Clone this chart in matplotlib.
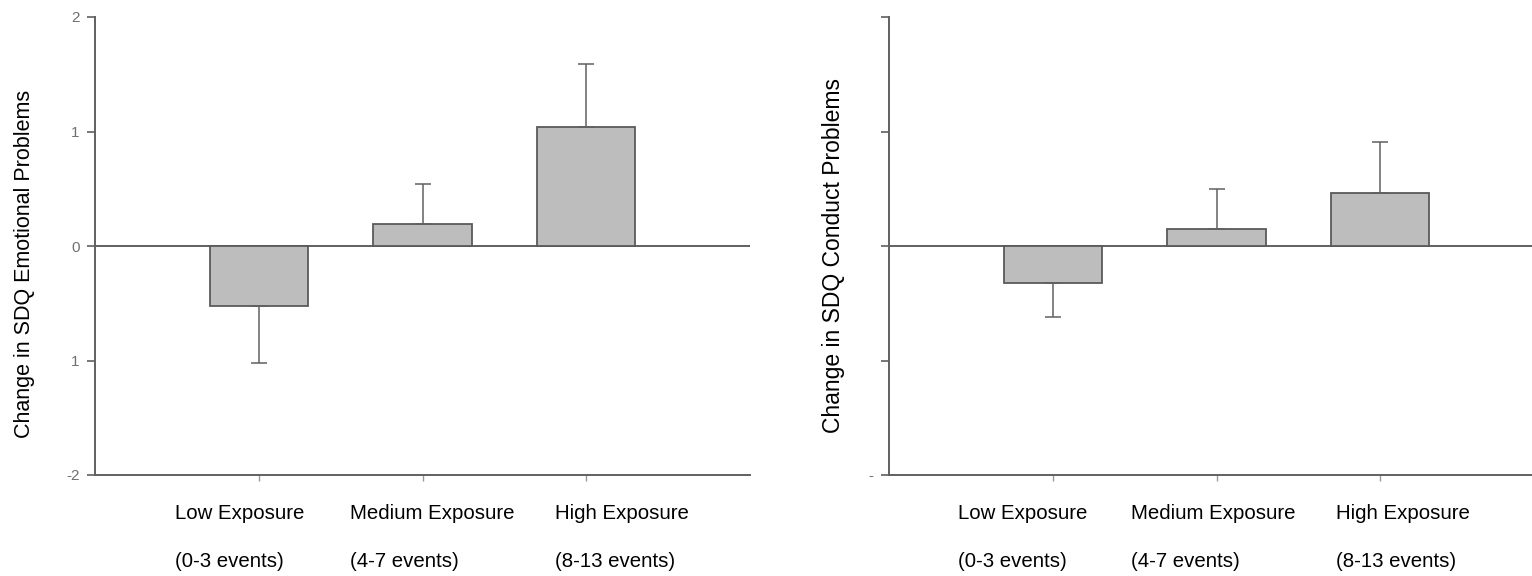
import matplotlib
matplotlib.use("Agg")
import matplotlib.pyplot as plt
import matplotlib.transforms as mtransforms

plt.rcParams['font.family'] = ['Liberation Sans', 'DejaVu Sans']

categories = ["Low Exposure", "Medium Exposure", "High Exposure"]
subcats = ["(0-3 events)", "(4-7 events)", "(8-13 events)"]

emotional_values = [-0.52, 0.19, 1.04]
emotional_err = [0.50, 0.35, 0.55]
conduct_values = [-0.32, 0.15, 0.46]
conduct_err = [0.30, 0.35, 0.45]

left_yticks = [2, 1, 0, -1, -2]
left_yticklabels = ["2", "1", "0", "1", "-2"]
right_yticklabels = ["", "", "", "", "-"]

BAR_FILL = "#bdbdbd"
EDGE = "#5a5a5a"
LINE = "#606060"
TICK_TXT = "#707070"

fig = plt.figure(figsize=(15.32, 5.76), dpi=100)
ax1 = fig.add_axes([95 / 1532, 101 / 576, 655 / 1532, 458 / 576])
ax2 = fig.add_axes([889 / 1532, 101 / 576, 655 / 1532, 458 / 576])


def draw(ax, values, errs, ylabel, yticklabels, label_offsets, ylabel_pos, ylabel_size):
    x = list(range(len(values)))
    ax.bar(x, values, width=0.6, color=BAR_FILL, edgecolor=EDGE, linewidth=1.3, zorder=2)
    lower = [e if v < 0 else 0 for v, e in zip(values, errs)]
    upper = [e if v >= 0 else 0 for v, e in zip(values, errs)]
    ax.errorbar(x, values, yerr=[lower, upper], fmt='none', ecolor=LINE,
                elinewidth=1.1, capsize=6, capthick=1.1, zorder=3)
    ax.axhline(0, color=LINE, linewidth=1.4, zorder=1)
    ax.set_xlim(-1, 3)
    ax.set_ylim(-2, 2)
    ax.set_yticks(left_yticks)
    ax.set_yticklabels(yticklabels)
    ax.set_xticks(x)
    ax.set_xticklabels([""] * len(x))
    for s in ["top", "right"]:
        ax.spines[s].set_visible(False)
    for s in ["left", "bottom"]:
        ax.spines[s].set_color(LINE)
        ax.spines[s].set_linewidth(1.4)
    ax.tick_params(axis='y', direction='out', length=5.5, width=1.2, color=LINE,
                   labelsize=11, labelcolor=TICK_TXT, pad=5.5)
    ax.tick_params(axis='x', direction='out', length=4, width=1.0, color="#999999")
    ax.set_ylabel(ylabel, fontsize=ylabel_size)
    ax.yaxis.set_label_coords(*ylabel_pos)
    trans = mtransforms.blended_transform_factory(ax.transData, ax.transAxes)
    for xi, off, c, sc in zip(x, label_offsets, categories, subcats):
        ax.text(xi + off, -0.083, c, transform=trans, ha='left', va='center',
                fontsize=14.7, clip_on=False)
        ax.text(xi + off, -0.188, sc, transform=trans, ha='left', va='center',
                fontsize=14.7, clip_on=False)


draw(ax1, emotional_values, emotional_err, "Change in SDQ Emotional Problems",
     left_yticklabels, [-0.51, -0.44, -0.19], (-0.091, 0.46), 15.5)
draw(ax2, conduct_values, conduct_err, "Change in SDQ Conduct Problems",
     right_yticklabels, [-0.58, -0.52, -0.27], (-0.067, 0.48), 16.5)

fig.savefig("out.png", dpi=100)
